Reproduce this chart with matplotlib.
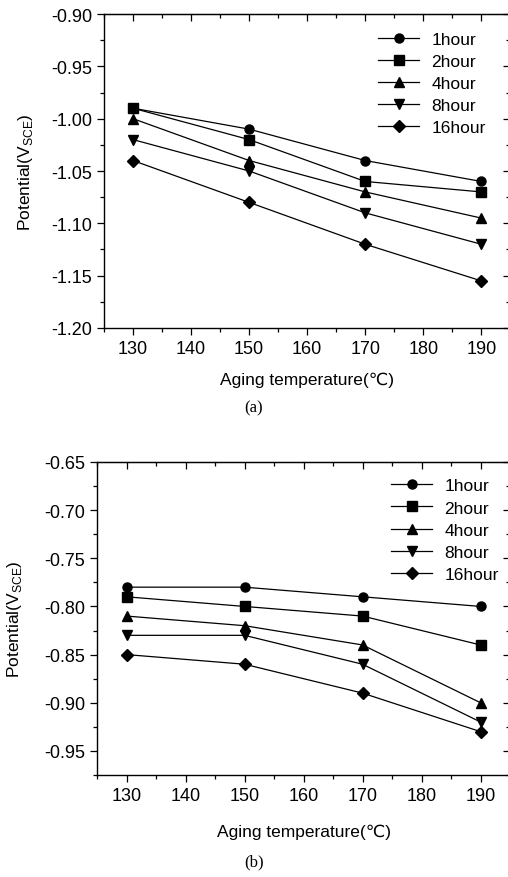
import matplotlib
matplotlib.use("Agg")
from matplotlib import pyplot as plt
from matplotlib.ticker import MultipleLocator, FormatStrFormatter

plt.rcParams['font.family'] = ['Liberation Sans', 'DejaVu Sans']

temps = [130, 150, 170, 190]
labels = ["1hour", "2hour", "4hour", "8hour", "16hour"]
markers = ["o", "s", "^", "v", "D"]

# (a)
pot_a_1h = [-0.99, -1.01, -1.04, -1.06]
pot_a_2h = [-0.99, -1.02, -1.06, -1.07]
pot_a_4h = [-1.00, -1.04, -1.07, -1.095]
pot_a_8h = [-1.02, -1.05, -1.09, -1.12]
pot_a_16h = [-1.04, -1.08, -1.12, -1.155]

# (b)
pot_b_1h = [-0.78, -0.78, -0.79, -0.80]
pot_b_2h = [-0.79, -0.80, -0.81, -0.84]
pot_b_4h = [-0.81, -0.82, -0.84, -0.90]
pot_b_8h = [-0.83, -0.83, -0.86, -0.92]
pot_b_16h = [-0.85, -0.86, -0.89, -0.93]

series_a = [pot_a_1h, pot_a_2h, pot_a_4h, pot_a_8h, pot_a_16h]
series_b = [pot_b_1h, pot_b_2h, pot_b_4h, pot_b_8h, pot_b_16h]

fig = plt.figure(figsize=(5.08, 8.78), dpi=100)
ax1 = fig.add_axes([0.2047, 0.6253, 0.80, 0.3576])
ax2 = fig.add_axes([0.191, 0.1162, 0.813, 0.3565])


def draw(ax, series, ylim, label_x, xpad, leg_anchor):
    for vals, lab, m in zip(series, labels, markers):
        ms = 5.8 if m == "D" else 6.5
        ax.plot(temps, vals, color="black", lw=0.9, marker=m, ms=ms, label=lab)
    ax.set_xlim(125, 195)
    ax.set_ylim(*ylim)
    ax.xaxis.set_major_locator(MultipleLocator(10))
    ax.xaxis.set_minor_locator(MultipleLocator(5))
    ax.yaxis.set_major_locator(MultipleLocator(0.05))
    ax.yaxis.set_minor_locator(MultipleLocator(0.025))
    ax.yaxis.set_major_formatter(FormatStrFormatter("%.2f"))
    ax.tick_params(which="both", direction="out", top=False, right=False,
                   labelsize=13, width=0.9)
    ax.tick_params(which="major", length=5)
    ax.tick_params(which="minor", length=3)
    for s in ax.spines.values():
        s.set_linewidth(1.0)
    # inward ticks on top and right
    sec_x = ax.secondary_xaxis("top")
    sec_x.xaxis.set_major_locator(MultipleLocator(10))
    sec_x.xaxis.set_minor_locator(MultipleLocator(5))
    sec_x.tick_params(which="both", direction="in", labeltop=False, width=0.9)
    sec_x.tick_params(which="major", length=5)
    sec_x.tick_params(which="minor", length=3)
    sec_y = ax.secondary_yaxis("right")
    sec_y.yaxis.set_major_locator(MultipleLocator(0.05))
    sec_y.yaxis.set_minor_locator(MultipleLocator(0.025))
    sec_y.tick_params(which="both", direction="in", labelright=False, width=0.9)
    sec_y.tick_params(which="major", length=5)
    sec_y.tick_params(which="minor", length=3)
    ax.set_xlabel("Aging temperature(℃)", fontsize=12.5, labelpad=xpad)
    ax.set_ylabel("Potential(V$_{\\mathregular{SCE}}$)", fontsize=12.5)
    ax.yaxis.set_label_coords(label_x, 0.5)
    ax.legend(loc="upper right", bbox_to_anchor=leg_anchor, frameon=False,
              fontsize=12.5, handlelength=2.4, labelspacing=0.4,
              handletextpad=0.7, borderaxespad=0.0)


draw(ax1, series_a, (-1.20, -0.90), -0.17, 11, (0.957, 0.965))
draw(ax2, series_b, (-0.975, -0.65), -0.177, 14, (0.99, 0.97))

fig.text(0.5, 1 - 408 / 878, "(a)", ha="center", va="center",
         family="Liberation Serif", fontsize=12)
fig.text(0.5, 1 - 862 / 878, "(b)", ha="center", va="center",
         family="Liberation Serif", fontsize=12)

plt.savefig("out.png", dpi=100)
